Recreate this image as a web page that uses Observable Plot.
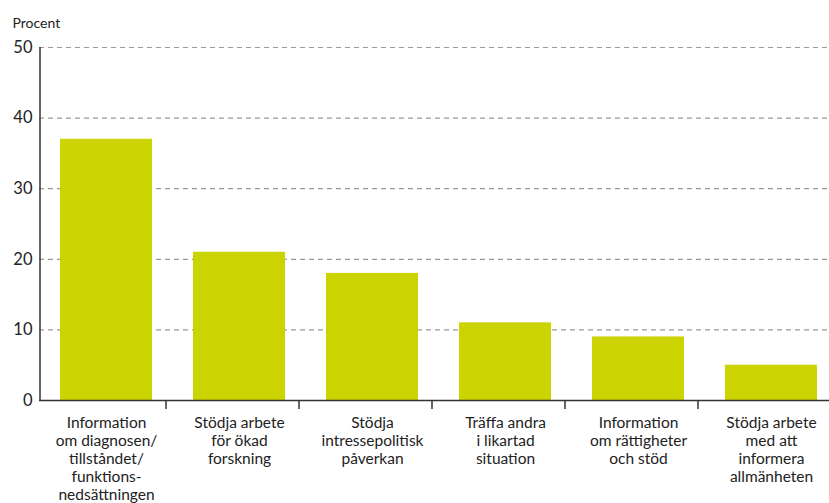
<!DOCTYPE html>
<html>
<head>
<meta charset="utf-8">
<script src="https://cdn.jsdelivr.net/npm/d3@7"></script>
<script src="https://cdn.jsdelivr.net/npm/@observablehq/plot@0.6"></script>
<style>
  body { margin: 0; background: #fff; }
  svg { display: block; }
</style>
</head>
<body>
<div id="chart"></div>
<script>
const categories = [
  "Information\nom diagnosen/\ntillståndet/\nfunktions-\nnedsättningen",
  "Stödja arbete\nför ökad\nforskning",
  "Stödja\nintressepolitisk\npåverkan",
  "Träffa andra\ni likartad\nsituation",
  "Information\nom rättigheter\noch stöd",
  "Stödja arbete\nmed att\ninformera\nallmänheten"
];
const values = [37, 21, 18, 11, 9, 5];
const yTicks = [0, 10, 20, 30, 40, 50];
const yLabel = "Procent";

const data = categories.map((c, i) => ({ cat: c, value: values[i] }));
const step = 133;

const chart = Plot.plot({
  width: 829,
  height: 503,
  marginTop: 47,
  marginBottom: 103,
  marginLeft: 39,
  marginRight: 0,
  style: { fontFamily: "Lato, sans-serif", fontSize: "15px", color: "#222", background: "#fff" },
  x: { type: "band", domain: categories, range: [39, 39 + step * 6], paddingInner: 0.31, paddingOuter: 0.155, align: 0.5 },
  y: { domain: [0, 50], ticks: yTicks },
  marks: [
    Plot.gridY(yTicks.slice(1), { stroke: "#999", strokeOpacity: 1, strokeWidth: 1.2, strokeDasharray: "5,4" }),
    Plot.barY(data, { x: "cat", y: "value", fill: "#cbd400" }),
    Plot.ruleY([0], { stroke: "#333", strokeWidth: 1.5 }),
    Plot.ruleX([categories[0]], { y1: 0, y2: 50, dx: -step / 2, stroke: "#333", strokeWidth: 1.5 }),
    Plot.axisX({ ticks: categories.slice(1), tickSize: 9, tickFormat: () => "", dx: -step / 2 - 7, stroke: "#333", strokeWidth: 1.5, label: null }),
    Plot.axisX({ tickSize: 0, tickPadding: 15, lineHeight: 1.16, fontSize: 15.5, fill: "#222", label: null }),
    Plot.axisY({ ticks: yTicks, tickSize: 0, tickPadding: 7, fontSize: 16.5, fill: "#222", label: null }),
    Plot.text([yLabel], { frameAnchor: "top-left", textAnchor: "start", lineAnchor: "bottom", dx: -27, dy: -20, fontSize: 14, fill: "#222" })
  ]
});
document.getElementById("chart").appendChild(chart);
</script>
</body>
</html>
